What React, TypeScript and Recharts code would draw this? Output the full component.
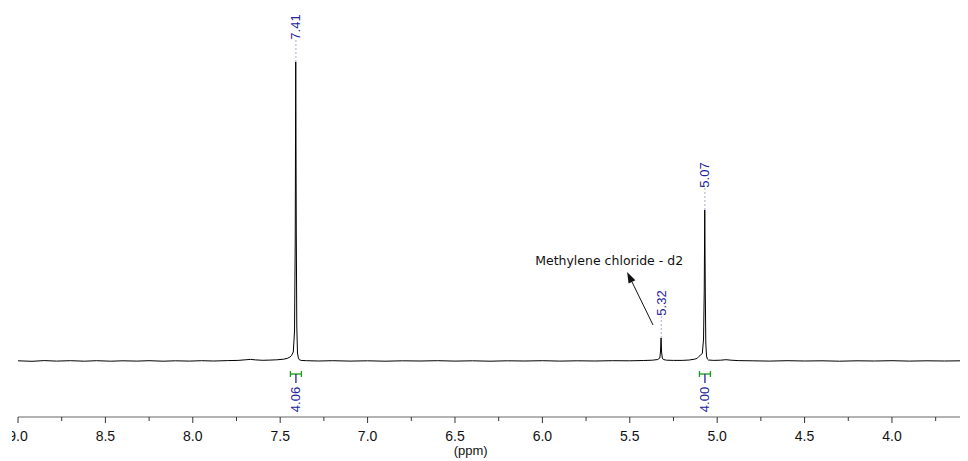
import React from 'react';
import { LineChart, Line, XAxis, YAxis, ReferenceLine, ReferenceDot } from 'recharts';

const spectrumPpm = [
  9.0, 8.92, 8.85, 8.78, 8.7, 8.62, 8.55, 8.47, 8.4, 8.32, 8.25, 8.17, 8.1, 8.02, 7.95, 7.88, 7.8, 7.74, 7.7, 7.67,
  7.64, 7.6, 7.56, 7.52, 7.48, 7.46, 7.445, 7.435, 7.425, 7.418, 7.414, 7.411, 7.408, 7.405, 7.401, 7.396, 7.39, 7.38,
  7.35, 7.28, 7.2, 7.1, 7.0, 6.9, 6.8, 6.7, 6.6, 6.5, 6.4, 6.3, 6.2, 6.1, 6.0, 5.9, 5.8, 5.7, 5.6, 5.5, 5.42, 5.37,
  5.34, 5.328, 5.324, 5.321, 5.318, 5.314, 5.308, 5.29, 5.25, 5.2, 5.16, 5.13, 5.115, 5.105, 5.095, 5.085, 5.078,
  5.074, 5.071, 5.068, 5.065, 5.061, 5.056, 5.05, 5.02, 4.98, 4.95, 4.92, 4.88, 4.8, 4.7, 4.6, 4.5, 4.4, 4.3, 4.2,
  4.1, 4.0, 3.9, 3.8, 3.7, 3.6, 3.565,
];
const spectrumIntensity = [
  0.2, -0.3, 0.4, -0.1, 0.3, -0.2, 0.3, -0.2, 0.2, -0.1, 0.3, -0.2, 0.2, -0.1, 0.3, 0, 0.4, 0.6, 1.2, 1.6,
  1.1, 0.7, 0.9, 1.2, 1.8, 2.6, 3.8, 5.5, 9, 30, 120, 299, 130, 35, 8, 3, 1.2, 0.6,
  0.3, 0, 0.3, -0.1, 0.2, -0.2, 0.2, 0, 0.3, -0.1, 0.2, -0.2, 0.2, 0, 0.3, -0.1, 0.2, 0, 0.3, 0.2, 0.5, 0.8,
  1.5, 3, 10, 23, 9, 3, 1.5, 0.8, 0.6, 0.6, 1, 1.8, 2.6, 4.5, 6, 7.5, 22,
  70, 151, 70, 18, 5, 2, 1, 0.6, 0.8, 1.3, 0.8, 0.4, 0.2, -0.1, 0.3, 0, 0.2, -0.2, 0.2,
  0, 0.3, -0.1, 0.2, 0, 0.2, 0,
];

const majorTicks = [9.0, 8.5, 8.0, 7.5, 7.0, 6.5, 6.0, 5.5, 5.0, 4.5, 4.0];
const minorTicks = [8.75, 8.25, 7.75, 7.25, 6.75, 6.25, 5.75, 5.25, 4.75, 4.25, 3.75];

const peakPpm = [7.41, 5.32, 5.07];
const peakLabels = ['7.41', '5.32', '5.07'];
const peakHeights = [299, 23, 151];

const integralPpm = [7.41, 5.07];
const integralLabels = ['4.06', '4.00'];

const solventLabel = 'Methylene chloride - d2';
const solventTail = { ppm: 5.367, y: 36 };
const solventHead = { ppm: 5.515, y: 89 };
const solventText = { ppm: 5.618, y: 101 };

const xLabel = '(ppm)';
const xLabelPpm = 6.41;

const data = spectrumPpm.map((p, i) => ({ ppm: p, y: spectrumIntensity[i] }));
const allTicks = [...majorTicks, ...minorTicks].sort((a, b) => b - a);

const LABEL_BLUE = '#22229a';
const DASH_BLUE = '#a6a6dc';
const GREEN = '#1a9a1a';

const AxisTick = (props: any) => {
  const { x, y, payload } = props;
  const v = payload.value as number;
  const major = majorTicks.some((m) => Math.abs(m - v) < 1e-6);
  return (
    <g>
      <line x1={x} x2={x} y1={y} y2={y + (major ? 6 : 4)} stroke="#333" strokeWidth={1} />
      {major && (
        <text x={x} y={y + 24} textAnchor="middle" fontFamily="'Liberation Sans', Arial, sans-serif" fontSize={14} fill="#111">
          {v.toFixed(1)}
        </text>
      )}
    </g>
  );
};

const RotText = (text: string, color: string, size: number) => (props: any) => {
  const { cx, cy } = props;
  if (cx == null || cy == null) return <g />;
  return (
    <text
      x={cx}
      y={cy}
      transform={`rotate(-90 ${cx} ${cy})`}
      textAnchor="middle"
      dominantBaseline="central"
      fontFamily="'Liberation Sans', Arial, sans-serif"
      fontSize={size}
      fill={color}
    >
      {text}
    </text>
  );
};

const Bracket = (props: any) => {
  const { cx, cy } = props;
  if (cx == null || cy == null) return <g />;
  return (
    <g>
      <line x1={cx - 5.5} x2={cx + 5.5} y1={cy} y2={cy} stroke={GREEN} strokeWidth={1.3} />
      <line x1={cx - 5.5} x2={cx - 5.5} y1={cy - 3} y2={cy + 3} stroke={GREEN} strokeWidth={1.3} />
      <line x1={cx + 5.5} x2={cx + 5.5} y1={cy - 3} y2={cy + 3} stroke={GREEN} strokeWidth={1.3} />
      <line x1={cx} x2={cx} y1={cy} y2={cy + 9} stroke={LABEL_BLUE} strokeWidth={1.3} />
    </g>
  );
};

const Arrow = (props: any) => {
  const { x1, y1, x2, y2 } = props;
  if ([x1, y1, x2, y2].some((v) => v == null || isNaN(v))) return <g />;
  const ang = Math.atan2(y2 - y1, x2 - x1);
  const len = 11;
  const half = 3.8;
  const bx = x2 - len * Math.cos(ang);
  const by = y2 - len * Math.sin(ang);
  const px = -Math.sin(ang) * half;
  const py = Math.cos(ang) * half;
  return (
    <g>
      <line x1={x1} y1={y1} x2={bx} y2={by} stroke="#111" strokeWidth={1} />
      <polygon points={`${x2},${y2} ${bx + px},${by + py} ${bx - px},${by - py}`} fill="#111" />
    </g>
  );
};

const TextAt = (text: string, size: number, family: string) => (props: any) => {
  const { cx, cy } = props;
  if (cx == null || cy == null) return <g />;
  return (
    <text x={cx} y={cy} textAnchor="middle" dominantBaseline="central" fontFamily={family} fontSize={size} fill="#111">
      {text}
    </text>
  );
};

const XLabel = (props: any) => {
  const { cx, cy } = props;
  if (cx == null || cy == null) return <g />;
  return (
    <text x={cx} y={cy + 38} textAnchor="middle" fontFamily="'Liberation Sans', Arial, sans-serif" fontSize={13} fill="#111">
      {xLabel}
    </text>
  );
};

export default function App() {
  return (
    <div style={{ marginLeft: 4, width: 956, height: 453 }}>
      <LineChart width={956} height={453} data={data} margin={{ top: 7, right: 0, left: 6, bottom: 0 }}>
        <XAxis
          dataKey="ppm"
          type="number"
          domain={[3.565, 9.0]}
          reversed
          allowDataOverflow
          ticks={allTicks}
          interval={0}
          tick={<AxisTick />}
          tickLine={false}
          tickSize={0}
          tickMargin={0}
          height={44}
          axisLine={{ stroke: '#666', strokeWidth: 1 }}
        />
        <YAxis hide type="number" domain={[-56, 346]} allowDataOverflow />
        <Line
          type="linear"
          dataKey="y"
          stroke="#000"
          strokeWidth={1}
          dot={false}
          activeDot={false}
          isAnimationActive={false}
        />
        {peakPpm.map((p, i) => (
          <ReferenceLine
            key={`pl${i}`}
            segment={[
              { x: p, y: peakHeights[i] },
              { x: p, y: peakHeights[i] + 22 },
            ]}
            stroke={DASH_BLUE}
            strokeDasharray="2 2"
            ifOverflow="visible"
          />
        ))}
        {peakPpm.map((p, i) => (
          <ReferenceDot
            key={`pt${i}`}
            x={p}
            y={peakHeights[i] + 35}
            ifOverflow="visible"
            shape={RotText(peakLabels[i], LABEL_BLUE, 13)}
          />
        ))}
        {integralPpm.map((p, i) => (
          <ReferenceDot key={`ib${i}`} x={p} y={-13} ifOverflow="visible" shape={Bracket} />
        ))}
        {integralPpm.map((p, i) => (
          <ReferenceDot
            key={`it${i}`}
            x={p}
            y={-38.5}
            ifOverflow="visible"
            shape={RotText(integralLabels[i], LABEL_BLUE, 13)}
          />
        ))}
        <ReferenceLine
          segment={[
            { x: solventTail.ppm, y: solventTail.y },
            { x: solventHead.ppm, y: solventHead.y },
          ]}
          ifOverflow="visible"
          shape={Arrow}
        />
        <ReferenceDot
          x={solventText.ppm}
          y={solventText.y}
          ifOverflow="visible"
          shape={TextAt(solventLabel, 12.5, "'DejaVu Sans', Verdana, sans-serif")}
        />
        <ReferenceDot x={xLabelPpm} y={-56} ifOverflow="visible" shape={XLabel} />
      </LineChart>
    </div>
  );
}
